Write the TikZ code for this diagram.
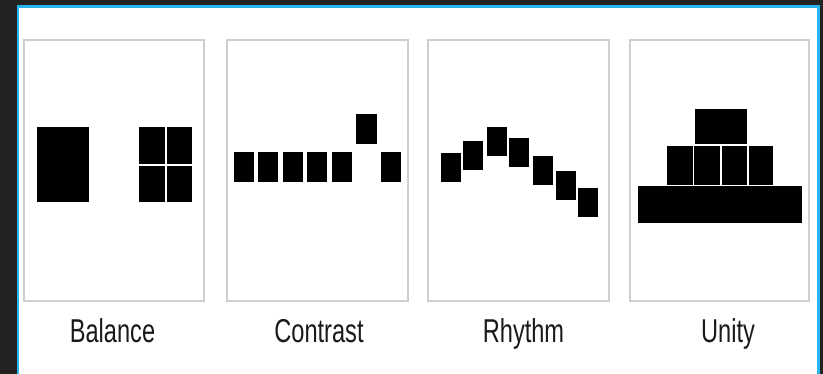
\documentclass[tikz,border=0pt]{standalone}
\usepackage{fontspec}
\setmainfont{Liberation Sans}
\definecolor{bgdark}{HTML}{222222}
\definecolor{frameblue}{HTML}{29B6F0}
\definecolor{panelgray}{HTML}{CFCFCF}
\definecolor{labeltext}{HTML}{1A1A1A}
\newcommand{\mylabel}[1]{\scalebox{0.8}[1.12]{\fontsize{29.5}{34}\selectfont #1}}
\begin{document}
\begin{tikzpicture}[x=1pt,y=-1pt,
  panel/.style={draw=panelgray,line width=1.3pt,fill=white},
  blk/.style={fill=black},
  gapline/.style={draw=white,line width=1.8pt},
  lbl/.style={anchor=base,inner sep=0pt,text=labeltext}]
\useasboundingbox (0,0) rectangle (823,374);
% background and frame
\fill[bgdark] (0,0) rectangle (823,374);
\fill[frameblue] (16.5,5.5) rectangle (819.5,374);
\fill[white] (18.8,7.8) rectangle (817.2,374);
% panels
\foreach \l/\r/\n in {24/204/pa,227/408/pb,428/609/pc,630/809/pd}{
  \draw[panelgray!70!black,line width=1pt,opacity=0.35] (\l+0.5,302) -- (\r+0.5,302);
  \draw[panel] (\l,40) rectangle (\r,301);
  \coordinate (\n) at ({(\l+\r)/2},301);
}
% Balance
\fill[blk] (37.3,127.3) rectangle (89.3,201.7);
\fill[blk] (139.3,127.3) rectangle (192.3,201.7);
\draw[gapline] (166.3,127) -- (166.3,202);
\draw[gapline] (139,165.3) -- (192.6,165.3);
% Contrast
\foreach \x in {233.5,258,282.6,307.2,331.8,380.8}{
  \fill[blk] (\x,152.5) rectangle (\x+20,181.8);
}
\fill[blk] (356.3,114.4) rectangle (376.5,143.7);
% Rhythm
\foreach \x/\t in {441/152.7,463.3/140.7,486.6/126.7,509.3/138.3,532.7/155.7,556/171,578.3/187.7}{
  \fill[blk] (\x,\t) rectangle (\x+20,\t+29.2);
}
% Unity
\fill[blk] (695,109) rectangle (747.3,144.2);
\fill[blk] (666.7,146.4) rectangle (773.3,185);
\foreach \x in {693.5,720.8,748.2}{
  \draw[draw=white,line width=1.5pt] (\x,146) -- (\x,185.3);
}
\fill[blk] (638.3,186.2) rectangle (801.7,222.7);
% labels
\node[lbl] (lbala) at (112.5,343) {\mylabel{Balance}};
\node[lbl] (lcont) at (319,343) {\mylabel{Contrast}};
\node[lbl] (lrhyt) at (523.5,343) {\mylabel{Rhythm}};
\node[lbl] (lunit) at (728,343) {\mylabel{Unity}};
\end{tikzpicture}
\end{document}
